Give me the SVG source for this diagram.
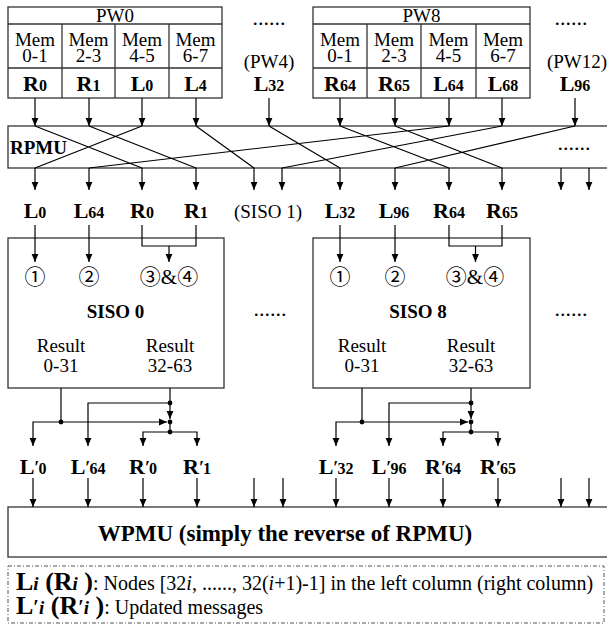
<svg xmlns="http://www.w3.org/2000/svg" width="607" height="627" viewBox="0 0 607 627">
<defs>
<style>
.bx{fill:none;stroke:#333;stroke-width:1.3}
.ln{fill:none;stroke:#000;stroke-width:1.2}
.ar{fill:none;stroke:#000;stroke-width:1.2;marker-end:url(#ah)}
.t{font-family:"Liberation Serif","DejaVu Serif",serif;font-size:19px;fill:#000}
.m{text-anchor:middle}
.b{font-weight:bold}
.dots{font-size:22px}
.big{font-family:"Liberation Serif",serif;font-weight:bold;font-size:22px;fill:#000;text-anchor:middle}
.sub{font-size:16px}
.pr{font-size:18px}
.dot{fill:#000}
.cn{font-family:"Noto Sans CJK SC","DejaVu Sans",serif;font-size:21px;fill:#000;text-anchor:middle}
.amp{font-family:"Liberation Serif",serif;font-size:21px}
</style>
<marker id="ah" markerWidth="8" markerHeight="8" refX="8" refY="4" orient="auto" markerUnits="userSpaceOnUse">
<path d="M0,0.6 L8,4 L0,7.4 z" fill="#000"/>
</marker>
</defs>
<rect width="607" height="627" fill="#fff"/>

<g id="pw0">
<rect class="bx" x="8" y="7" width="214" height="91"/>
<path class="bx" d="M8,24H222M8,68H222M62,24V98M115,24V98M169,24V98"/>
<text class="t m" x="115" y="22">PW0</text>
<text class="t m" x="35" y="46">Mem</text><text class="t m" x="35" y="62">0-1</text>
<text class="t m" x="88.5" y="46">Mem</text><text class="t m" x="88.5" y="62">2-3</text>
<text class="t m" x="142" y="46">Mem</text><text class="t m" x="142" y="62">4-5</text>
<text class="t m" x="195.5" y="46">Mem</text><text class="t m" x="195.5" y="62">6-7</text>
<text class="big" x="35" y="91">R<tspan class="sub">0</tspan></text>
<text class="big" x="88.5" y="91">R<tspan class="sub">1</tspan></text>
<text class="big" x="142" y="91">L<tspan class="sub">0</tspan></text>
<text class="big" x="195.5" y="91">L<tspan class="sub">4</tspan></text>
</g>
<g id="pw4">
<text class="t m dots" x="269" y="25">......</text>
<text class="t m" x="269" y="68">(PW4)</text>
<text class="big" x="269" y="91">L<tspan class="sub">32</tspan></text>
</g>
<g id="pw8">
<rect class="bx" x="313" y="7" width="217" height="91"/>
<path class="bx" d="M313,24H530M313,68H530M367,24V98M421,24V98M476,24V98"/>
<text class="t m" x="421.5" y="22">PW8</text>
<text class="t m" x="340" y="46">Mem</text><text class="t m" x="340" y="62">0-1</text>
<text class="t m" x="394" y="46">Mem</text><text class="t m" x="394" y="62">2-3</text>
<text class="t m" x="448.5" y="46">Mem</text><text class="t m" x="448.5" y="62">4-5</text>
<text class="t m" x="503" y="46">Mem</text><text class="t m" x="503" y="62">6-7</text>
<text class="big" x="340" y="91">R<tspan class="sub">64</tspan></text>
<text class="big" x="394" y="91">R<tspan class="sub">65</tspan></text>
<text class="big" x="448.5" y="91">L<tspan class="sub">64</tspan></text>
<text class="big" x="503" y="91">L<tspan class="sub">68</tspan></text>
</g>
<g id="pw12">
<text class="t m dots" x="571" y="25">......</text>
<text class="t m" x="577" y="68">(PW12)</text>
<text class="big" x="575" y="91">L<tspan class="sub">96</tspan></text>
</g>

<g id="rpmu">
<rect class="bx" x="8" y="126" width="620" height="42"/>
<text class="t b" x="10" y="154">RPMU</text>
<text class="t m dots" x="574" y="150">......</text>
</g>

<g id="labels-in">
<text class="big" x="35" y="218">L<tspan class="sub">0</tspan></text>
<text class="big" x="89" y="218">L<tspan class="sub">64</tspan></text>
<text class="big" x="142" y="218">R<tspan class="sub">0</tspan></text>
<text class="big" x="196" y="218">R<tspan class="sub">1</tspan></text>
<text class="t m" x="268" y="218">(SISO 1)</text>
<text class="big" x="340" y="218">L<tspan class="sub">32</tspan></text>
<text class="big" x="394" y="218">L<tspan class="sub">96</tspan></text>
<text class="big" x="449" y="218">R<tspan class="sub">64</tspan></text>
<text class="big" x="502" y="218">R<tspan class="sub">65</tspan></text>
</g>

<g id="siso0">
<rect class="bx" x="8" y="238" width="216" height="150"/>
<text class="cn" x="35" y="284">①</text>
<text class="cn" x="89" y="284">②</text>
<text class="cn" x="169" y="284">③<tspan class="amp">&amp;</tspan>④</text>
<text class="t m b" x="115.5" y="318">SISO 0</text>
<text class="t m" x="61" y="352">Result</text><text class="t m" x="61" y="372">0-31</text>
<text class="t m" x="170" y="352">Result</text><text class="t m" x="170" y="372">32-63</text>
</g>
<g id="siso-dots">
<text class="t m dots" x="270" y="316">......</text>
<text class="t m dots" x="571" y="316">......</text>
</g>
<g id="siso8">
<rect class="bx" x="313" y="238" width="217" height="150"/>
<text class="cn" x="340" y="284">①</text>
<text class="cn" x="395" y="284">②</text>
<text class="cn" x="475" y="284">③<tspan class="amp">&amp;</tspan>④</text>
<text class="t m b" x="418" y="318">SISO 8</text>
<text class="t m" x="362" y="352">Result</text><text class="t m" x="362" y="372">0-31</text>
<text class="t m" x="471" y="352">Result</text><text class="t m" x="471" y="372">32-63</text>
</g>

<g id="labels-out">
<text class="big" x="33" y="474">L<tspan class="pr">′</tspan><tspan class="sub" dx="-1">0</tspan></text>
<text class="big" x="88" y="474">L<tspan class="pr">′</tspan><tspan class="sub" dx="-1">64</tspan></text>
<text class="big" x="143" y="474">R<tspan class="pr">′</tspan><tspan class="sub" dx="-1">0</tspan></text>
<text class="big" x="197" y="474">R<tspan class="pr">′</tspan><tspan class="sub" dx="-1">1</tspan></text>
<text class="big" x="336" y="474">L<tspan class="pr">′</tspan><tspan class="sub" dx="-1">32</tspan></text>
<text class="big" x="389" y="474">L<tspan class="pr">′</tspan><tspan class="sub" dx="-1">96</tspan></text>
<text class="big" x="443" y="474">R<tspan class="pr">′</tspan><tspan class="sub" dx="-1">64</tspan></text>
<text class="big" x="498" y="474">R<tspan class="pr">′</tspan><tspan class="sub" dx="-1">65</tspan></text>
</g>

<g id="wpmu">
<rect class="bx" x="8" y="507" width="620" height="50"/>
<text class="t b m" x="285" y="541" style="font-size:23px">WPMU (simply the reverse of RPMU)</text>
</g>

<g id="legend">
<rect x="8" y="566" width="596" height="57" fill="none" stroke="#555" stroke-width="1" stroke-dasharray="4,2,1,2"/>
<text class="t" x="16" y="590" style="font-size:20px"><tspan font-weight="bold" font-size="26">L</tspan><tspan font-style="italic" font-weight="bold" font-size="19">i</tspan><tspan font-weight="bold" font-size="26"> (R</tspan><tspan font-style="italic" font-weight="bold" font-size="19">i</tspan><tspan font-weight="bold" font-size="26"> )</tspan>: Nodes [32<tspan font-style="italic">i</tspan>, ......, 32(<tspan font-style="italic">i</tspan>+1)-1] in the left column (right column)</text>
<text class="t" x="16" y="614" style="font-size:20px"><tspan font-weight="bold" font-size="26">L</tspan><tspan font-weight="bold" font-size="20">′</tspan><tspan font-style="italic" font-weight="bold" font-size="19">i</tspan><tspan font-weight="bold" font-size="26"> (R</tspan><tspan font-weight="bold" font-size="20">′</tspan><tspan font-style="italic" font-weight="bold" font-size="19">i</tspan><tspan font-weight="bold" font-size="26"> )</tspan>: Updated messages</text>
</g>

<g id="connectors">
<path class="ar" d="M35,98V126"/><path class="ar" d="M89,98V126"/><path class="ar" d="M142,98V126"/><path class="ar" d="M196,98V126"/>
<path class="ar" d="M269,98V126"/>
<path class="ar" d="M340,98V126"/><path class="ar" d="M395,98V126"/><path class="ar" d="M449,98V126"/><path class="ar" d="M502,98V126"/>
<path class="ar" d="M575,98V126"/>
<path class="ln" d="M35,126L142,168M89,126L196,168M142,126L35,168M196,126L254,168M269,126L340,168M340,126L449,168M395,126L502,168M449,126L89,168M502,126L282,168M575,126L395,168"/>
<path class="ar" d="M35,168V190"/><path class="ar" d="M89,168V190"/><path class="ar" d="M142,168V190"/><path class="ar" d="M196,168V190"/>
<path class="ar" d="M254,168V190"/><path class="ar" d="M282,168V190"/>
<path class="ar" d="M340,168V190"/><path class="ar" d="M395,168V190"/><path class="ar" d="M449,168V190"/><path class="ar" d="M502,168V190"/>
<path class="ar" d="M561,168V190"/><path class="ar" d="M589,168V190"/>

<path class="ar" d="M35,225V262"/><path class="ar" d="M89,225V262"/>
<path class="ln" d="M142,225V246H196V225"/><path class="ar" d="M169,246V262"/>
<path class="ar" d="M340,225V262"/><path class="ar" d="M395,225V262"/>
<path class="ln" d="M449,225V246H502V225"/><path class="ar" d="M475.5,246V262"/>

<path class="ln" d="M61,388V422"/>
<path class="ln" d="M170,388V403"/>
<path class="ar" d="M170,403H88V446"/>
<path class="ar" d="M170,403V419"/>
<path class="ln" d="M170,422V432"/>
<path class="ar" d="M61,422H33V446"/>
<path class="ar" d="M61,422H167"/>
<path class="ar" d="M170,432H143V446"/>
<path class="ar" d="M170,432H197V446"/>
<circle class="dot" cx="170" cy="403" r="2.4"/><circle class="dot" cx="61" cy="422" r="2.4"/><circle class="dot" cx="170" cy="422" r="2.4"/><circle class="dot" cx="170" cy="432" r="2.4"/>

<path class="ln" d="M362,388V422"/>
<path class="ln" d="M471,388V403"/>
<path class="ar" d="M471,403H389V446"/>
<path class="ar" d="M471,403V419"/>
<path class="ln" d="M471,422V432"/>
<path class="ar" d="M362,422H336V446"/>
<path class="ar" d="M362,422H468"/>
<path class="ar" d="M471,432H443V446"/>
<path class="ar" d="M471,432H498V446"/>
<circle class="dot" cx="471" cy="403" r="2.4"/><circle class="dot" cx="362" cy="422" r="2.4"/><circle class="dot" cx="471" cy="422" r="2.4"/><circle class="dot" cx="471" cy="432" r="2.4"/>

<path class="ar" d="M33,478V507"/><path class="ar" d="M88,478V507"/><path class="ar" d="M143,478V507"/><path class="ar" d="M197,478V507"/>
<path class="ar" d="M254,478V507"/><path class="ar" d="M283,478V507"/>
<path class="ar" d="M336,478V507"/><path class="ar" d="M389,478V507"/><path class="ar" d="M443,478V507"/><path class="ar" d="M498,478V507"/>
<path class="ar" d="M561,478V507"/><path class="ar" d="M589,478V507"/>
</g>
</svg>
